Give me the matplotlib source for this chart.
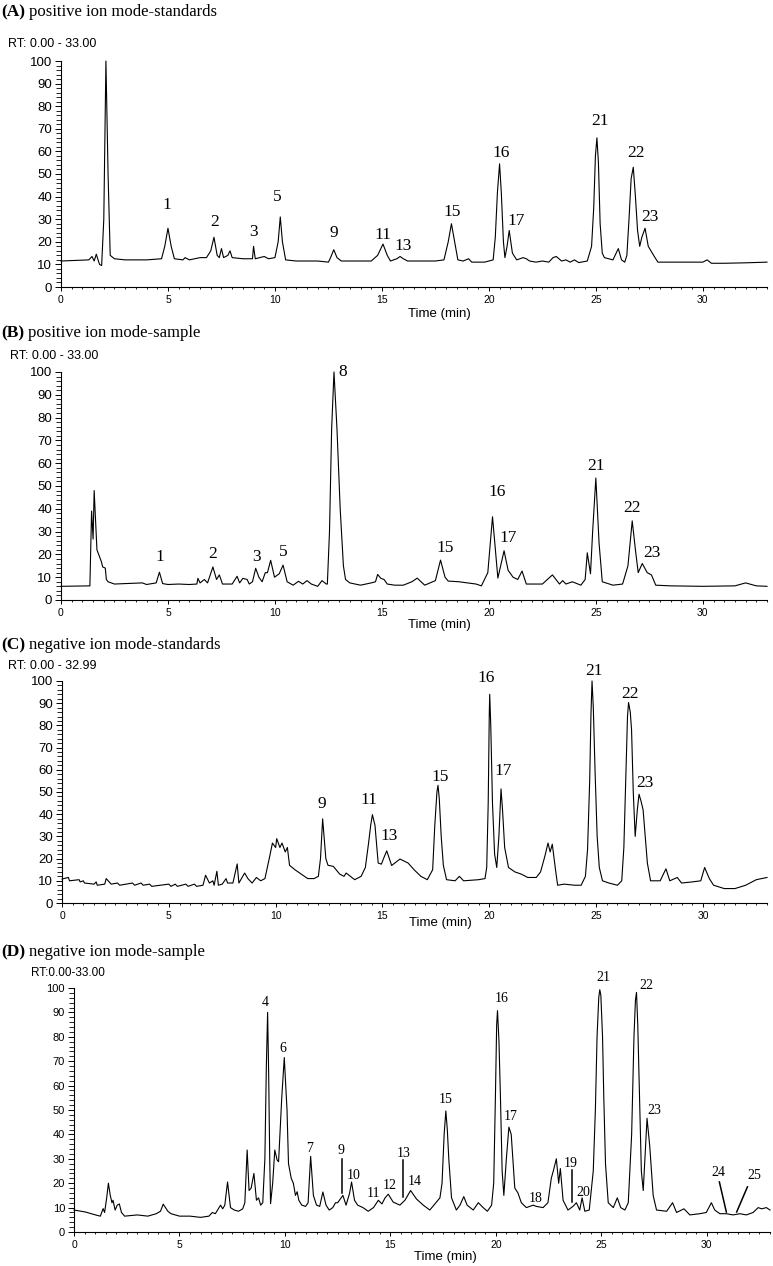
import numpy as np
import matplotlib
matplotlib.use("Agg")
import matplotlib.pyplot as plt
from matplotlib.ticker import MultipleLocator

# ---- data (time in min, relative abundance %) ----
a_time = [0, 1.3, 1.45, 1.55, 1.65, 1.8, 1.9, 2.0, 2.1, 2.2, 2.3, 2.5, 3, 4, 4.7, 4.85, 5.0, 5.15, 5.3,
          5.7, 5.8, 6, 6.5, 6.8, 7.0, 7.15, 7.3, 7.4, 7.5, 7.6, 7.8, 7.9, 8.0, 8.5, 8.95, 9.0, 9.08,
          9.3, 9.5, 9.7, 10.0, 10.15, 10.25, 10.35, 10.5, 11, 12, 12.5, 12.6, 12.75, 12.9, 13.1, 13.7,
          14.5, 14.8, 15.05, 15.25, 15.4, 15.7, 15.85, 16.0, 16.2, 17, 17.5, 17.9, 18.1, 18.25, 18.4,
          18.55, 18.8, 19.05, 19.2, 19.8, 20.2, 20.3, 20.4, 20.5, 20.58, 20.68, 20.75, 20.85, 20.95,
          21.1, 21.3, 21.6, 21.75, 21.9, 22.2, 22.5, 22.8, 23.0, 23.15, 23.4, 23.6, 23.8, 24.0, 24.2,
          24.6, 24.8, 24.9, 24.98, 25.05, 25.12, 25.2, 25.3, 25.4, 25.6, 25.8, 26.05, 26.2, 26.35,
          26.45, 26.55, 26.65, 26.75, 26.85, 26.95, 27.05, 27.15, 27.3, 27.45, 27.7, 27.9, 28.5,
          29.5, 30.0, 30.2, 30.4, 31, 32, 33]
a_signal = [11.5, 12, 13.5, 11.5, 14.5, 10, 9.5, 30, 100, 50, 14, 12.5, 12, 12, 12.5, 18, 26, 18, 12.5,
            12, 13, 12, 13, 13, 16, 22, 14, 13, 17, 13, 14, 16, 13, 12.5, 12.5, 18, 12.5,
            13, 13.5, 12.5, 13, 20, 31, 20, 12, 11.5, 11.5, 11, 13, 16.5, 13, 11.5, 11.5,
            11.5, 14, 19, 14, 11.5, 12.5, 13.5, 12.5, 11.5, 11.5, 11.5, 12, 20, 28, 20,
            12, 11.5, 12.5, 11, 11, 12, 22, 42, 54.5, 42, 20, 13, 18, 25,
            15, 12, 13, 12.5, 11.5, 11, 11.5, 11, 13, 13.5, 11.5, 12, 11, 12, 10.8,
            11.5, 18, 35, 58, 66, 55, 28, 15, 13, 12.5, 12, 17, 12, 11,
            14, 30, 48, 53, 40, 25, 18, 22, 26, 18, 14, 11, 11,
            11, 11, 12, 10.5, 10.5, 10.7, 11]
a_peaks = ["1", "2", "3", "5", "9", "11", "13", "15", "16", "17", "21", "22", "23"]
a_peak_t = [4.94, 7.2, 8.99, 10.12, 12.77, 15.06, 16.0, 18.3, 20.55, 21.26, 25.19, 26.87, 27.52]
a_peak_v = [36.3, 28.9, 24.5, 40.0, 23.7, 23.0, 18.3, 33.3, 59.2, 29.3, 73.6, 59.2, 30.8]

b_time = [0, 1.35, 1.43, 1.5, 1.55, 1.68, 1.88, 1.95, 2.07, 2.12, 2.2, 2.5, 3.0, 3.8, 4.0, 4.45, 4.6,
          4.75, 5.0, 5.5, 6.0, 6.35, 6.4, 6.5, 6.7, 6.85, 7.1, 7.27, 7.4, 7.55, 8.0, 8.23, 8.35, 8.5,
          8.7, 8.8, 8.95, 9.1, 9.25, 9.4, 9.55, 9.65, 9.8, 9.98, 10.2, 10.38, 10.57, 10.85, 11.1,
          11.3, 11.5, 11.7, 12.0, 12.2, 12.4, 12.45, 12.55, 12.65, 12.76, 12.9, 13.05, 13.2, 13.3,
          13.5, 14.0, 14.5, 14.7, 14.8, 14.95, 15.1, 15.25, 15.6, 16.0, 16.4, 16.65, 17.0, 17.5,
          17.74, 17.95, 18.1, 18.6, 19.4, 19.65, 19.95, 20.17, 20.42, 20.71, 20.9, 21.13, 21.35,
          21.55, 21.75, 22.5, 22.97, 23.3, 23.45, 23.6, 23.9, 24.3, 24.5, 24.6, 24.75, 24.85, 25.0,
          25.15, 25.3, 25.8, 26.25, 26.5, 26.7, 26.85, 26.98, 27.17, 27.4, 27.6, 27.8, 28.5, 30,
          31.5, 32.0, 32.5, 33]
b_signal = [6, 6.2, 39, 26.7, 48, 22, 17, 14.5, 14, 9, 8, 7, 7.2, 7.5, 6.8, 7.5, 12.2,
            7.2, 6.8, 7, 6.8, 7, 9.5, 7.5, 9, 7.5, 14.5, 9, 11, 7, 7, 10.4, 7.5, 9.5,
            9, 7, 8, 13.9, 10, 8, 12, 12, 17.4, 10, 11.5, 15.3, 8, 6.5, 8.2,
            7, 8.5, 7, 6, 8.5, 7, 7, 30, 75, 100, 75, 40, 15, 9,
            7.5, 6.5, 7.5, 8, 11.2, 9.5, 9, 7, 6.5, 6.5, 8, 9.6, 6.5, 8.5,
            17.5, 10, 8.3, 8, 7, 6.2, 12, 36.5, 9.6, 21.6, 13, 10, 9,
            12.7, 7, 7, 11, 7, 8.5, 7, 8, 6.5, 9, 20.7, 11.5, 30, 53.5,
            25, 8, 6.5, 7, 15, 34.7, 22, 12, 16, 12, 11, 6.5, 6.2, 6,
            6.2, 7.5, 6.2, 6]
b_peaks = ["1", "2", "3", "5", "8", "15", "16", "17", "21", "22", "23"]
b_peak_t = [4.6, 7.09, 9.14, 10.39, 13.19, 17.94, 20.39, 20.9, 25.03, 26.71, 27.6]
b_peak_v = [18.7, 20.1, 18.7, 21.1, 99.9, 23.0, 47.4, 27.3, 58.8, 40.5, 20.4]

c_time = [0, 0.3, 0.35, 0.8, 0.85, 1.0, 1.05, 1.5, 1.6, 1.65, 2.0, 2.07, 2.3, 2.6, 2.7, 3.3, 3.4,
          3.7, 3.8, 4.1, 4.2, 4.6, 5.0, 5.1, 5.3, 5.4, 5.8, 5.9, 6.2, 6.3, 6.6, 6.72, 6.9, 7.06,
          7.12, 7.25, 7.32, 7.5, 7.68, 7.75, 8.0, 8.2, 8.28, 8.55, 8.7, 8.9, 9.1, 9.3, 9.5, 9.7,
          9.85, 10.0, 10.05, 10.2, 10.3, 10.45, 10.55, 10.65, 10.9, 11.2, 11.5, 11.8, 12.0, 12.1,
          12.2, 12.35, 12.45, 12.7, 13.0, 13.2, 13.3, 13.5, 13.7, 14.0, 14.2, 14.35, 14.45, 14.53,
          14.65, 14.8, 14.95, 15.05, 15.2, 15.43, 15.82, 16.2, 16.5, 16.8, 17.1, 17.35, 17.45,
          17.55, 17.6, 17.66, 17.75, 17.85, 18.0, 18.4, 18.6, 18.8, 19.5, 19.8, 19.88, 19.95, 20.0,
          20.02, 20.07, 20.15, 20.25, 20.35, 20.45, 20.55, 20.62, 20.72, 20.9, 21.2, 21.5, 21.8,
          22.2, 22.4, 22.6, 22.75, 22.85, 22.95, 23.1, 23.2, 23.5, 24.0, 24.3, 24.5, 24.6, 24.7,
          24.76, 24.81, 24.87, 24.95, 25.05, 25.15, 25.3, 25.6, 26.0, 26.2, 26.3, 26.4, 26.47,
          26.52, 26.6, 26.66, 26.74, 26.83, 26.93, 27.01, 27.1, 27.2, 27.3, 27.4, 27.55, 28.0,
          28.27, 28.45, 28.8, 29.0, 29.5, 29.9, 30.08, 30.3, 30.5, 31.0, 31.5, 32.0, 32.5, 33]
c_signal = [10.8, 11.5, 10, 10.5, 9.5, 10, 9, 8.5, 9.5, 8, 8.5, 11, 8.5, 9, 8, 9, 8,
            9, 8, 8.5, 7.5, 8, 8.5, 7.5, 8.5, 7.5, 8.5, 7.5, 8.5, 7.5, 8, 12.5, 9, 10,
            8, 14.3, 8, 8.5, 11, 9, 9, 17.6, 9, 13.5, 11, 9, 11.5, 10, 11, 20,
            27, 25, 29, 25, 27, 23, 25, 17, 15, 13, 11, 11, 12, 20,
            37.9, 20, 17, 16.5, 13, 12, 13.5, 12, 10.5, 12, 16, 27, 35, 39.8,
            35, 18, 17.5, 20, 23.5, 16.9, 19.8, 18, 14.8, 12, 10.5, 15, 35,
            50, 53, 47, 30, 17, 10.5, 10, 12, 10, 10.5, 11, 16, 45, 85,
            94, 80, 45, 22, 16, 30, 51.4, 42, 25, 16, 14, 13, 11.5,
            11.5, 14, 21, 27, 23, 26.5, 15, 8, 8.5, 8, 8, 12, 24, 55,
            85, 100, 88, 60, 30, 16, 10, 9, 8, 10, 25, 60, 84,
            90.3, 86, 78, 50, 30, 42, 49, 46, 42, 30, 18, 10, 10,
            15.4, 10, 11.5, 9, 9.5, 10, 16, 11, 8, 6.5, 6.5, 8, 10.5, 11.5]
c_peaks = ["9", "11", "13", "15", "16", "17", "21", "22", "23"]
c_peak_t = [12.18, 14.35, 15.31, 17.68, 19.85, 20.67, 24.89, 26.6, 27.29]
c_peak_v = [44.6, 46.6, 30.0, 56.6, 101.2, 59.6, 104.5, 94.3, 53.9]

d_time = [0, 0.54, 1.1, 1.25, 1.38, 1.45, 1.55, 1.63, 1.72, 1.8, 1.85, 1.95, 2.05, 2.15, 2.25, 2.4,
          3.0, 3.5, 3.9, 4.1, 4.23, 4.45, 4.6, 5.0, 5.5, 6.0, 6.4, 6.56, 6.7, 6.95, 7.05, 7.15,
          7.28, 7.42, 7.6, 7.8, 8.0, 8.1, 8.21, 8.3, 8.4, 8.53, 8.65, 8.75, 8.85, 8.95, 9.05,
          9.12, 9.18, 9.23, 9.28, 9.32, 9.42, 9.52, 9.63, 9.7, 9.85, 9.97, 10.1, 10.17, 10.3, 10.4,
          10.5, 10.58, 10.66, 10.8, 10.98, 11.1, 11.22, 11.35, 11.5, 11.65, 11.8, 11.95, 12.1,
          12.27, 12.4, 12.5, 12.67, 12.75, 12.9, 13.07, 13.16, 13.3, 13.45, 13.7, 13.95, 14.2,
          14.43, 14.6, 14.75, 14.9, 15.13, 15.45, 15.69, 15.96, 16.24, 16.56, 16.87, 17.11, 17.35,
          17.45, 17.55, 17.63, 17.7, 17.77, 17.9, 18.13, 18.3, 18.48, 18.64, 18.93, 19.17, 19.4,
          19.6, 19.8, 19.9, 19.98, 20.04, 20.08, 20.15, 20.22, 20.3, 20.38, 20.5, 20.62, 20.73,
          20.9, 21.05, 21.21, 21.45, 21.77, 21.92, 22.24, 22.47, 22.63, 22.74, 22.87, 22.98,
          23.06, 23.19, 23.42, 23.66, 23.82, 23.98, 24.09, 24.22, 24.43, 24.62, 24.72, 24.8,
          24.88, 24.93, 24.98, 25.06, 25.12, 25.2, 25.33, 25.57, 25.76, 25.92, 26.12, 26.28,
          26.44, 26.55, 26.62, 26.67, 26.73, 26.8, 26.9, 26.99, 27.1, 27.17, 27.3, 27.46, 27.62,
          28.1, 28.38, 28.57, 28.92, 29.2, 29.67, 29.98, 30.22, 30.38, 30.62, 30.93, 31.25,
          31.57, 31.88, 32.2, 32.44, 32.6, 32.83, 33]
d_signal = [9, 8.2, 6.8, 6.5, 9.6, 8, 14, 20, 15, 12, 13, 9, 11, 11.5, 8, 6.5,
            7, 6.5, 7.5, 8.5, 11.4, 8.5, 7.5, 6.5, 6.5, 6, 6.5, 8, 7.5, 11, 9.5, 11,
            20.5, 10, 9, 8.5, 9.5, 12, 33.6, 17, 18, 24, 13, 14, 11, 12, 30,
            68, 90, 65, 30, 11.6, 20, 33.6, 29.5, 28.8, 55, 71.5, 50, 28, 22, 20,
            15, 16.5, 13, 11, 10.5, 12, 31, 15, 11, 10.5, 16.4, 11, 9,
            10, 12, 12, 14, 15, 11, 16, 20.5, 13, 11, 10, 8.5, 10,
            13, 11.5, 14, 15.5, 12.3, 11, 13, 17, 13.5, 11, 9, 11.5, 14,
            20, 40, 49.6, 42, 30, 14, 9, 11, 14.5, 11, 9, 12, 10,
            8.5, 11, 20, 55, 85, 90.7, 78, 55, 25, 15, 30, 43, 40,
            18, 16, 12, 10, 11, 10.5, 10, 12, 22, 25.5, 30, 20,
            26, 13, 9, 10.5, 12, 9, 14, 8.5, 9, 25, 50, 80,
            96, 99.3, 97, 80, 55, 28, 12, 10, 14, 10, 9, 12,
            40, 80, 95, 98.2, 85, 60, 25, 17, 35, 46.6, 35, 15, 9,
            8.5, 12, 8, 9.5, 7, 7.5, 8, 12, 9, 7.5, 7.5, 7,
            7.5, 7, 8, 10, 9.5, 10, 9]
d_peaks = ["4", "6", "7", "9", "10", "11", "12", "13", "14", "15", "16", "17", "18", "19", "20",
           "21", "22", "23", "24", "25"]
d_peak_t = [9.08, 9.92, 11.15, 12.64, 13.24, 14.22, 14.99, 15.64, 16.16, 17.63, 20.3, 20.7, 21.87,
            23.55, 24.17, 25.09, 27.14, 27.5, 30.54, 32.25]
d_peak_v = [94, 75.3, 34.2, 33.3, 23.3, 15.8, 19.2, 32.2, 20.8, 54.1, 95.5, 47.5, 13.7,
            28.1, 16, 104.4, 101, 50, 24.4, 23.3]
# marker lines in panel D: (t0, v0, t1, v1)
d_marks = [(12.7, 30, 12.7, 16), (15.62, 29.5, 15.62, 14.4), (23.62, 25.3, 23.62, 12.3),
           (30.6, 20.5, 30.93, 8.2), (31.93, 18.5, 31.42, 8.2)]

W, H = 773, 1266
fig = plt.figure(figsize=(W / 100, H / 100), dpi=100)
SANS = "Liberation Sans"
SERIF = "Liberation Serif"


def rect(l, r, top, bot):
    return [l / W, 1 - bot / H, (r - l) / W, (bot - top) / H]


def panel(r, t, y, lbl_t, lbl_v, lbl_s, fs_peak, fs_y, fs_x):
    ax = fig.add_axes(r)
    ax.plot(t, y, color="black", lw=0.8, clip_on=False)
    ax.set_xlim(0, 33)
    ax.set_ylim(0, 100)
    for s in ("top", "right"):
        ax.spines[s].set_visible(False)
    for s in ("left", "bottom"):
        ax.spines[s].set_linewidth(0.8)
    ax.xaxis.set_major_locator(MultipleLocator(5))
    ax.xaxis.set_minor_locator(MultipleLocator(0.5))
    ax.yaxis.set_major_locator(MultipleLocator(10))
    ax.yaxis.set_minor_locator(MultipleLocator(2))
    ax.tick_params(axis="y", which="major", length=4.5, width=0.7, labelsize=fs_y, pad=2)
    ax.tick_params(axis="y", which="minor", length=3.5, width=0.6)
    ax.tick_params(axis="x", which="major", length=3, width=0.7, labelsize=fs_x, pad=3)
    ax.tick_params(axis="x", which="minor", length=1.2, width=0.6)
    for lab in ax.get_xticklabels() + ax.get_yticklabels():
        lab.set_fontfamily(SANS)
    for s, xt, yv in zip(lbl_s, lbl_t, lbl_v):
        ax.text(xt, yv, s, ha="center", va="center", fontsize=fs_peak,
                family=SERIF, clip_on=False)
    return ax


panel(rect(61, 767, 61, 287), a_time, a_signal, a_peak_t, a_peak_v, a_peaks, 12.5, 9.5, 7.5)
panel(rect(61, 767, 372, 600), b_time, b_signal, b_peak_t, b_peak_v, b_peaks, 12.5, 9.5, 7.5)
panel(rect(62, 767, 681, 903), c_time, c_signal, c_peak_t, c_peak_v, c_peaks, 12.5, 9.5, 7.5)
axD = panel(rect(74, 770, 988, 1232), d_time, d_signal, d_peak_t, d_peak_v, d_peaks, 10, 8, 7.5)
for t0, v0, t1, v1 in d_marks:
    axD.plot([t0, t1], [v0, v1], color="black", lw=1.1, clip_on=False)

# titles, RT ranges and axis labels (pixel positions from the figure)
titles = [("A", "positive ion mode-standards", 12), ("B", "positive ion mode-sample", 333),
          ("C", "negative ion mode-standards", 645), ("D", "negative ion mode-sample", 952)]
for letter, rest, yp in titles:
    t1 = fig.text(1 / W, 1 - yp / H, "(" + letter + ")", fontsize=12.5, family=SERIF,
                  weight="bold", va="center")
    fig.canvas.draw()
    bb = t1.get_window_extent()
    fig.text((bb.x1 + 4) / W, 1 - yp / H, rest, fontsize=12, family=SERIF, va="center")

rts = [("RT: 0.00 - 33.00", 8, 44, 9), ("RT: 0.00 - 33.00", 10, 356, 9),
       ("RT: 0.00 - 32.99", 8, 666, 9), ("RT:0.00-33.00", 31, 973, 8.5)]
for s, xp, yp, fs in rts:
    fig.text(xp / W, 1 - yp / H, s, fontsize=fs, family=SANS, va="center")

for xp, yp in [(439, 314), (439, 625), (440, 923), (445, 1257)]:
    fig.text(xp / W, 1 - yp / H, "Time (min)", fontsize=9.5, family=SANS, ha="center", va="center")

fig.savefig("out.png", dpi=100)
